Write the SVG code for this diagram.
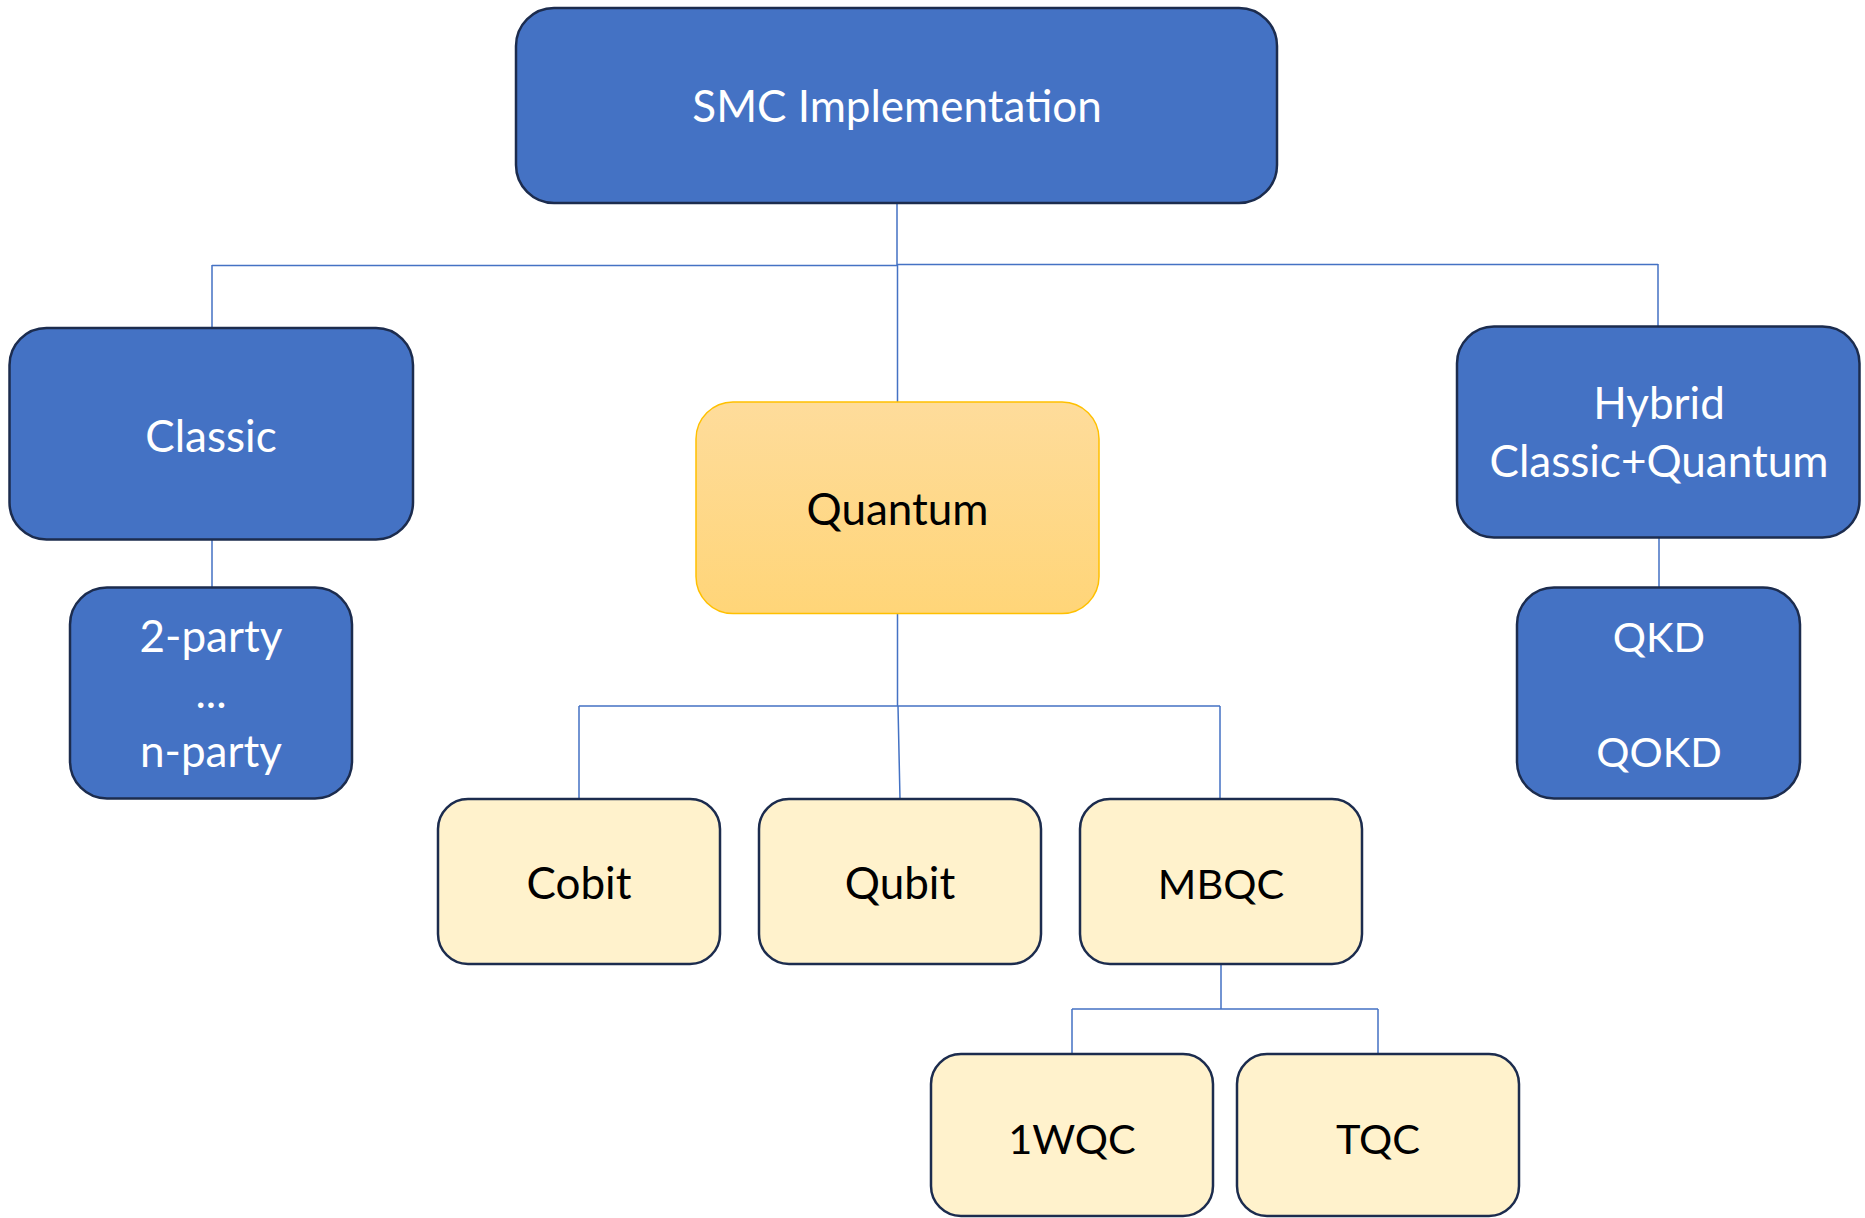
<svg xmlns="http://www.w3.org/2000/svg" width="1865" height="1218" viewBox="0 0 1865 1218">
  <style>
    .blue rect { fill: #4472C4; stroke: #1C2C4E; stroke-width: 2.5; }
    .cream rect { fill: #FFF2CC; stroke: #1C2C4E; stroke-width: 2.5; }
    .gold rect { fill: url(#goldGrad); stroke: #FFC000; stroke-width: 1.5; }
    text { font-family: Lato, "Open Sans", "Liberation Sans", sans-serif; font-size: 44px; text-anchor: middle; }
    text.caps { font-size: 41.5px; }
    .blue text { fill: #FFFFFF; }
    .cream text, .gold text { fill: #000000; }
    #connectors path { fill: none; stroke: #4472C4; stroke-width: 1.5; }
  </style>
  <defs>
    <linearGradient id="goldGrad" x1="0" y1="0" x2="0" y2="1">
      <stop offset="0" stop-color="#FEDC9B"/>
      <stop offset="1" stop-color="#FFD578"/>
    </linearGradient>
  </defs>

  <!-- tree connectors -->
  <g id="connectors">
    <path d="M897 203 V265 M212 265.5 H897 M897 264.5 H1658"/>
    <path d="M212 265 V328 M1658 264 V326 M897.5 265 V402"/>
    <path d="M212 540 V587 M1659 538 V587"/>
    <path d="M897.5 614 V706 M579 706 H1220 M579 706 V799 M898 706 L900 799 M1220 706 V799"/>
    <path d="M1221 965 V1009 M1072 1009 H1378 M1072 1009 V1053 M1378 1009 V1054"/>
  </g>

  <g id="smc" class="blue">
    <rect x="516" y="8" width="761" height="195" rx="38"/>
    <text x="897" y="122">SMC Implementation</text>
  </g>

  <g id="classic" class="blue">
    <rect x="9.5" y="328" width="403.5" height="211.5" rx="37"/>
    <text x="211" y="452">Classic</text>
  </g>

  <g id="parties" class="blue">
    <rect x="70" y="587.5" width="282" height="211" rx="37"/>
    <text x="211" y="652">2-party</text>
    <text x="211" y="708">...</text>
    <text x="211" y="767">n-party</text>
  </g>

  <g id="hybrid" class="blue">
    <rect x="1457" y="326.5" width="402.5" height="211" rx="37"/>
    <text x="1659" y="419">Hybrid</text>
    <text x="1659" y="477">Classic+Quantum</text>
  </g>

  <g id="qkd" class="blue">
    <rect x="1517" y="587.5" width="283" height="211" rx="37"/>
    <text class="caps" x="1659" y="652">QKD</text>
    <text class="caps" x="1659" y="767">QOKD</text>
  </g>

  <g id="quantum" class="gold">
    <rect x="696" y="402" width="403" height="211.5" rx="37"/>
    <text x="897.5" y="525">Quantum</text>
  </g>

  <g id="cobit" class="cream">
    <rect x="438" y="799" width="282" height="165" rx="30"/>
    <text x="579" y="899">Cobit</text>
  </g>

  <g id="qubit" class="cream">
    <rect x="759" y="799" width="282" height="165" rx="30"/>
    <text x="900" y="899">Qubit</text>
  </g>

  <g id="mbqc" class="cream">
    <rect x="1080" y="799" width="282" height="165" rx="30"/>
    <text class="caps" x="1221" y="899">MBQC</text>
  </g>

  <g id="onewqc" class="cream">
    <rect x="931" y="1054" width="282" height="162" rx="30"/>
    <text class="caps" x="1072" y="1154">1WQC</text>
  </g>

  <g id="tqc" class="cream">
    <rect x="1237" y="1054" width="282" height="162" rx="30"/>
    <text class="caps" x="1378" y="1154">TQC</text>
  </g>
</svg>
